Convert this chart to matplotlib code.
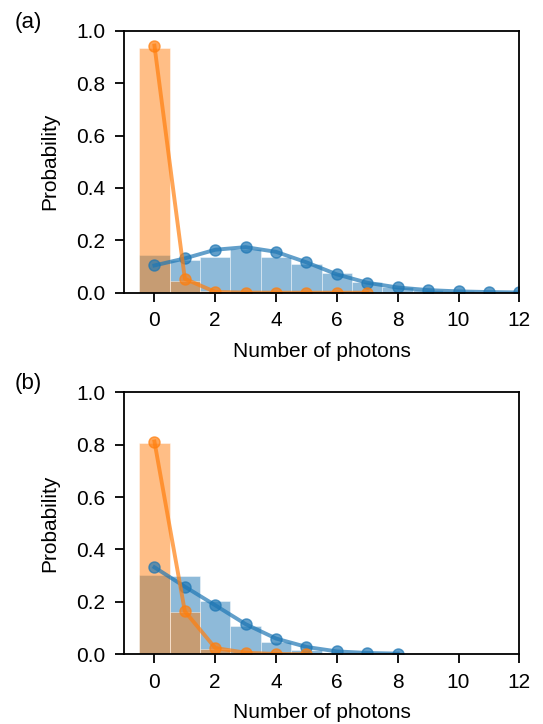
import numpy as np
import matplotlib.pyplot as plt

plt.rcParams['font.family'] = ['Liberation Sans', 'DejaVu Sans']
plt.rcParams['font.size'] = 15

# photon number distributions, panel (a)
n_a = np.arange(13)
hist_blue_a = [0.144, 0.126, 0.135, 0.165, 0.135, 0.108, 0.077, 0.039, 0.020, 0.010, 0.005, 0.003, 0.002]
hist_orange_a = [0.935, 0.043, 0.005, 0.0, 0.0, 0.0, 0.0, 0.0, 0.0, 0.0, 0.0, 0.0, 0.0]
line_blue_a = [0.104, 0.131, 0.164, 0.174, 0.156, 0.116, 0.070, 0.038, 0.020, 0.010, 0.005, 0.0025, 0.001]
n_orange_a = np.arange(8)
line_orange_a = [0.943, 0.053, 0.003, 0.0005, 0.0, 0.0, 0.0, 0.0]

# photon number distributions, panel (b)
n_b = np.arange(9)
hist_blue_b = [0.302, 0.299, 0.204, 0.107, 0.047, 0.018, 0.006, 0.002, 0.0]
hist_orange_b = [0.808, 0.160, 0.022, 0.005, 0.001, 0.0, 0.0, 0.0, 0.0]
line_blue_b = [0.332, 0.258, 0.187, 0.115, 0.060, 0.028, 0.011, 0.005, 0.0025]
n_orange_b = np.arange(6)
line_orange_b = [0.812, 0.164, 0.024, 0.006, 0.001, 0.0]

panels = [
    ('(a)', n_a, hist_blue_a, hist_orange_a, line_blue_a, n_orange_a, line_orange_a),
    ('(b)', n_b, hist_blue_b, hist_orange_b, line_blue_b, n_orange_b, line_orange_b),
]

fig = plt.figure(figsize=(5.43, 7.24), dpi=100)
ax_a = fig.add_axes([0.2284, 0.5957, 0.728, 0.3619])
ax_b = fig.add_axes([0.2284, 0.0963, 0.728, 0.3619])

for ax, (tag, n, hb, ho, lb, no, lo) in zip([ax_a, ax_b], panels):
    ax.bar(n, hb, width=1.0, color='C0', alpha=0.5, edgecolor='white', linewidth=0.6)
    ax.bar(n, ho, width=1.0, color='C1', alpha=0.5, edgecolor='white', linewidth=0.6)
    ax.plot(n, lb, 'o-', color='C0', alpha=0.7, lw=2.8, ms=8)
    ax.plot(no, lo, 'o-', color='C1', alpha=0.7, lw=2.8, ms=8)
    ax.set_xlim(-1, 12)
    ax.set_ylim(0, 1.0)
    ax.set_xticks(np.arange(0, 13, 2))
    ax.set_yticks(np.arange(0, 1.01, 0.2))
    ax.set_xlabel('Number of photons', labelpad=8)
    ax.set_ylabel('Probability', labelpad=12)
    ax.tick_params(direction='out', length=6.5, width=1.3, pad=7)
    for s in ax.spines.values():
        s.set_linewidth(1.3)
    ax.text(-0.278, 1.033, tag, transform=ax.transAxes, ha='left', va='center',
            fontsize=16)

fig.savefig('out.png', dpi=100)
